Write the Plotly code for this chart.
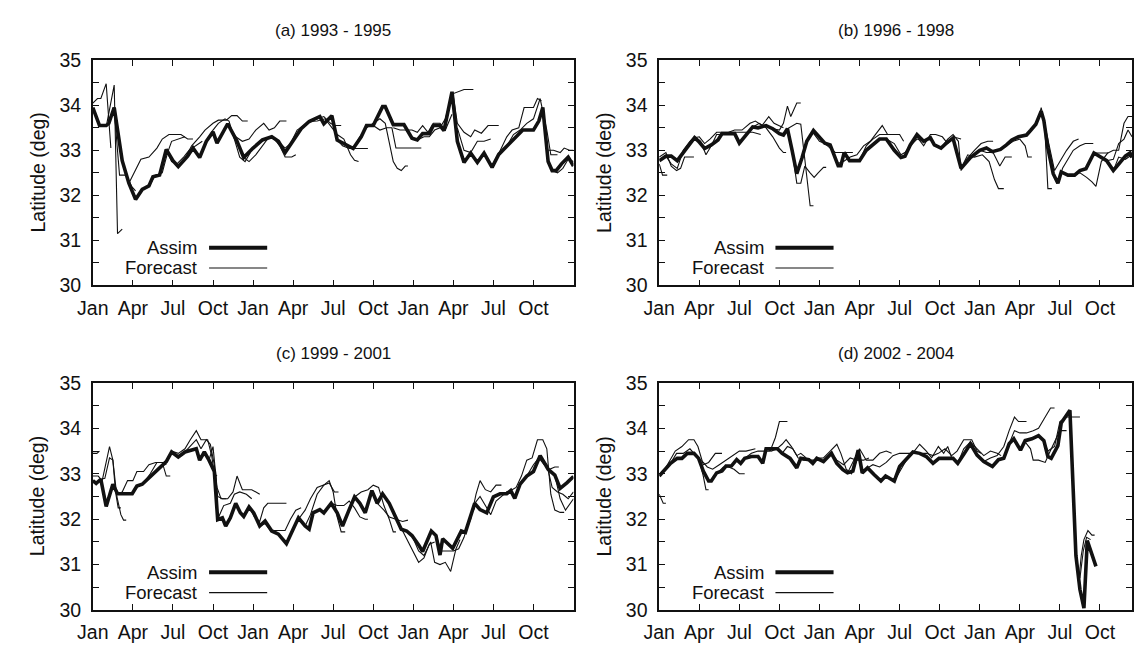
import plotly.graph_objects as go

# ---------------- data ----------------
TICK_MONTHS = [0, 3, 6, 9, 12, 15, 18, 21, 24, 27, 30, 33]
TICK_LABELS = ["Jan", "Apr", "Jul", "Oct"] * 3
Y_TICKS = [30, 31, 32, 33, 34, 35]
Y_MINOR = [30.5, 31.5, 32.5, 33.5, 34.5]
TITLES = ["(a) 1993 - 1995", "(b) 1996 - 1998", "(c) 1999 - 2001", "(d) 2002 - 2004"]

# panel (a) 1993-1995 : months since Jan 1993, latitude
A_ASSIM_M = [0.0, 0.5, 1.0, 1.2, 1.6, 2.2, 2.7, 3.2, 3.7, 4.2, 4.5, 5.0, 5.5, 6.0, 6.4, 6.8, 7.1, 7.5, 8.0, 8.5,
             9.0, 9.3, 10.1, 10.8, 11.3, 12.0, 12.7, 13.4, 13.9, 14.4, 15.0, 15.6, 16.2, 17.0, 17.3, 17.9, 18.3,
             18.8, 19.5, 20.1, 20.5, 21.0, 21.7, 21.9, 22.5, 23.3, 23.9, 24.3, 24.7, 25.2, 25.5, 26.0, 26.3,
             26.9, 27.3, 27.8, 28.3, 28.8, 29.3, 29.9, 30.4, 31.0, 31.6, 32.2, 33.0, 33.4, 33.7, 34.1, 34.4,
             34.7, 35.1, 35.6, 36.0]
A_ASSIM_V = [33.95, 33.55, 33.55, 33.6, 33.95, 32.77, 32.27, 31.91, 32.13, 32.21, 32.41, 32.45, 33.02, 32.77,
             32.64, 32.77, 32.87, 33.05, 32.84, 33.2, 33.41, 33.16, 33.59, 33.2, 32.84, 33.05, 33.23, 33.3,
             33.2, 32.95, 33.2, 33.48, 33.64, 33.75, 33.59, 33.77, 33.23, 33.16, 33.04, 33.3, 33.55, 33.55,
             33.97, 33.97, 33.57, 33.57, 33.27, 33.23, 33.37, 33.37, 33.55, 33.55, 33.44, 34.3, 33.2, 32.73,
             32.94, 32.73, 32.94, 32.62, 32.91, 33.09, 33.27, 33.45, 33.45, 33.65, 33.95, 32.75, 32.55, 32.55,
             32.7, 32.85, 32.65]
A_FORECASTS = [
    [(0, 34.05), (0.35, 34.15), (0.6, 34.15), (1.0, 34.48), (1.35, 33.05)],
    [(1.05, 33.6), (1.6, 34.45), (1.85, 31.15), (2.2, 31.25)],
    [(1.6, 33.9), (2.0, 32.45), (2.5, 32.45), (2.9, 32.2), (3.2, 32.1)],
    [(2.7, 32.27), (3.2, 32.55), (3.6, 32.8), (4.2, 32.85), (4.8, 33.05), (5.2, 33.25), (5.7, 33.35),
     (6.6, 33.35), (7.1, 33.25), (7.5, 33.25)],
    [(4.2, 32.21), (4.7, 32.45), (5.2, 32.5), (5.6, 32.95), (5.9, 33.2), (6.4, 33.25), (6.9, 33.3)],
    [(5.5, 33.02), (5.9, 32.75), (6.3, 32.7), (6.8, 32.85), (7.2, 33.0), (7.7, 33.1), (8.2, 33.2)],
    [(6.8, 32.77), (7.4, 33.1), (8.0, 33.3), (8.4, 33.45), (9.0, 33.6), (9.4, 33.67), (10.0, 33.67),
     (10.4, 33.77), (10.8, 33.77), (11.2, 33.65), (11.6, 33.65)],
    [(8.5, 33.2), (9.0, 33.45), (9.4, 33.6), (9.9, 33.7), (10.2, 33.65), (10.6, 33.25), (11.0, 32.85),
     (11.4, 32.75), (11.8, 32.95)],
    [(10.1, 33.59), (10.7, 33.3), (11.2, 33.2), (11.7, 33.25), (12.2, 33.45), (12.8, 33.6), (13.2, 33.45),
     (13.6, 33.5), (14.0, 33.65), (14.5, 33.65)],
    [(11.3, 32.84), (11.7, 32.75), (12.2, 32.9), (12.7, 33.1), (13.2, 33.3), (13.6, 33.25), (14.0, 33.1),
     (14.4, 32.85), (14.9, 32.85), (15.2, 32.9)],
    [(13.9, 33.2), (14.4, 33.05), (14.8, 33.15), (15.3, 33.45), (15.8, 33.55), (16.3, 33.65), (16.8, 33.7),
     (17.3, 33.75), (17.8, 33.6), (18.1, 33.55), (18.6, 33.55)],
    [(16.2, 33.64), (16.8, 33.65), (17.4, 33.7), (17.9, 33.5), (18.3, 33.35), (18.8, 33.25), (19.3, 32.9),
     (19.6, 32.78), (19.9, 32.75)],
    [(18.3, 33.23), (18.7, 33.1), (19.2, 33.04), (20.6, 33.04)],
    [(19.5, 33.04), (20.0, 33.3), (20.5, 33.5), (21.0, 33.6), (21.5, 33.7), (21.9, 33.6), (22.3, 33.0),
     (22.5, 32.75), (22.8, 32.6), (23.1, 32.55), (23.4, 32.65), (23.6, 32.65)],
    [(21.0, 33.55), (21.5, 33.45), (22.0, 33.5), (22.4, 33.5), (22.7, 33.05), (23.2, 33.05), (24.6, 33.05)],
    [(22.5, 33.5), (23.0, 33.45), (23.9, 33.45), (24.3, 33.4), (24.7, 33.55), (25.1, 33.4), (25.5, 33.6),
     (26.0, 33.6), (26.4, 33.45), (26.9, 33.8)],
    [(24.3, 33.23), (24.8, 33.3), (25.2, 33.3), (25.6, 33.45), (26.0, 33.5), (26.4, 33.7), (26.9, 34.25),
     (27.3, 34.3), (27.8, 34.35), (28.5, 34.35)],
    [(27.0, 34.2), (27.3, 33.6), (27.8, 33.4), (28.3, 33.3), (28.6, 33.45), (29.1, 33.38), (29.6, 33.55),
     (30.4, 33.55)],
    [(27.3, 33.5), (27.8, 33.0), (28.3, 32.95), (28.8, 33.2), (29.3, 33.2), (29.8, 33.25)],
    [(29.9, 32.62), (30.5, 33.0), (31.0, 33.3), (31.4, 33.45), (31.9, 33.5), (32.3, 33.95), (33.0, 33.95),
     (33.3, 34.15), (33.6, 34.1)],
    [(31.0, 33.09), (31.5, 33.35), (32.0, 33.45), (32.5, 33.6), (33.0, 33.7), (33.5, 34.15), (34.0, 33.45),
     (34.3, 32.9), (34.8, 32.9)],
    [(34.1, 33.0), (34.5, 33.0), (35.0, 32.95), (35.3, 33.05), (35.7, 33.0), (36.0, 33.0)],
    [(34.4, 32.55), (34.8, 32.5), (35.2, 32.6), (35.6, 32.8), (36.0, 32.75)],
]

# panel (b) 1996-1998
B_ASSIM_M = [0.0, 0.5, 0.9, 1.35, 1.8, 2.65, 2.95, 3.4, 3.9, 4.4, 4.7, 5.65, 6.0, 7.0, 7.4, 8.0, 8.5, 9.0, 9.3,
             9.6, 9.95, 10.3, 10.7, 11.05, 11.55, 12.0, 12.4, 12.8, 13.4, 13.6, 13.85, 14.25, 15.0, 15.5, 16.0,
             16.5, 17.0, 17.6, 18.1, 18.4, 18.8, 19.3, 19.8, 20.3, 20.6, 21.1, 21.5, 22.0, 22.6, 23.3, 24.0,
             24.5, 24.95, 25.55, 26.0, 26.4, 26.9, 27.5, 27.8, 28.2, 28.6, 28.8, 29.1, 29.5, 29.85, 30.1, 30.6,
             31.1, 31.5, 31.95, 32.55, 33.05, 33.5, 34.0, 34.4, 34.9, 35.25, 35.4]
B_ASSIM_V = [32.77, 32.87, 32.87, 32.77, 32.95, 33.28, 33.2, 33.04, 33.12, 33.23, 33.37, 33.37, 33.16, 33.52,
             33.5, 33.55, 33.48, 33.37, 33.34, 33.48, 33.0, 32.48, 32.84, 33.2, 33.44, 33.3, 33.16, 33.12,
             32.66, 32.66, 32.95, 32.77, 32.77, 33.0, 33.12, 33.25, 33.25, 33.0, 32.84, 32.87, 33.12, 33.35,
             33.2, 33.28, 33.12, 33.05, 33.16, 33.27, 32.6, 32.84, 33.0, 33.05, 32.97, 33.02, 33.12, 33.23,
             33.3, 33.34, 33.44, 33.58, 33.87, 33.66, 33.05, 32.48, 32.27, 32.52, 32.45, 32.45, 32.55, 32.59,
             32.94, 32.84, 32.77, 32.55, 32.7, 32.87, 32.94, 32.84]
B_FORECASTS = [
    [(0, 32.7), (0.25, 32.45), (0.6, 32.45)],
    [(0, 32.85), (0.5, 32.95), (0.9, 32.65), (1.3, 32.55), (1.6, 32.6), (1.9, 32.85), (2.6, 32.85)],
    [(0.5, 32.87), (0.9, 32.7), (1.35, 32.6), (1.8, 33.0), (2.3, 33.2), (2.65, 33.3), (3.1, 33.2),
     (3.5, 32.9), (3.9, 33.1), (4.3, 33.35), (4.7, 33.35)],
    [(2.65, 33.28), (3.0, 33.3), (3.4, 33.15), (3.8, 33.25), (4.3, 33.4), (5.0, 33.4), (6.0, 33.4),
     (7.0, 33.4), (7.6, 33.35)],
    [(4.7, 33.37), (5.2, 33.4), (5.65, 33.45), (6.2, 33.45), (6.8, 33.6), (7.2, 33.65), (7.7, 33.55),
     (8.2, 33.75), (8.6, 33.6), (9.0, 33.55), (9.3, 33.5)],
    [(7.0, 33.52), (7.5, 33.6), (8.0, 33.5), (8.5, 33.3), (9.0, 33.05), (9.3, 32.95), (9.5, 32.95)],
    [(8.5, 33.48), (9.0, 33.45), (9.3, 33.6), (9.6, 33.98), (9.85, 33.75), (10.3, 34.05), (10.6, 34.05)],
    [(9.6, 33.48), (10.0, 33.55), (10.3, 33.6), (10.6, 33.58), (11.3, 31.77), (11.55, 31.77)],
    [(9.95, 33.0), (10.3, 32.27), (10.6, 32.27), (10.9, 32.65), (11.3, 32.5), (11.6, 32.4), (11.9, 32.5),
     (12.3, 32.62), (12.5, 32.62)],
    [(11.05, 33.2), (11.5, 33.4), (12.0, 33.2), (12.4, 33.15), (12.8, 33.05), (13.2, 32.95), (13.9, 32.95),
     (14.5, 32.95)],
    [(12.8, 33.12), (13.3, 32.7), (13.8, 32.75), (14.3, 32.85), (14.8, 32.9), (15.3, 33.1), (15.8, 33.2),
     (16.3, 33.4), (16.7, 33.55), (17.1, 33.35), (17.6, 33.35)],
    [(15.0, 32.77), (15.5, 33.1), (16.0, 33.25), (16.5, 33.35), (17.0, 33.35), (17.5, 33.35), (18.0, 33.35),
     (18.3, 33.2)],
    [(17.0, 33.25), (17.6, 33.15), (18.1, 32.9), (18.4, 32.95), (18.8, 33.1), (19.3, 33.25), (19.8, 33.2)],
    [(18.8, 33.12), (19.3, 33.3), (19.8, 33.1), (20.3, 33.35), (20.7, 33.35), (21.2, 33.3), (21.6, 33.15),
     (22.0, 33.3), (22.6, 33.25)],
    [(21.1, 33.05), (21.6, 33.25), (22.0, 33.35), (22.4, 33.2), (22.6, 32.55), (23.0, 32.8), (23.6, 33.0),
     (24.1, 33.15), (24.6, 33.2), (25.0, 33.2)],
    [(22.6, 32.6), (23.1, 32.9), (23.6, 32.85), (24.2, 32.9), (24.7, 32.75), (25.1, 32.35), (25.4, 32.15),
     (25.8, 32.15)],
    [(24.0, 33.0), (24.5, 32.95), (25.0, 32.95), (25.5, 32.65), (25.9, 32.85), (26.4, 32.85)],
    [(25.5, 33.0), (26.0, 33.1), (26.5, 33.2), (27.0, 33.25), (27.4, 33.1), (27.6, 32.85), (27.9, 32.85)],
    [(26.4, 33.23), (27.0, 33.3), (27.5, 33.35), (28.0, 33.5), (28.4, 33.7), (28.6, 33.95), (28.85, 33.6),
     (29.1, 32.15), (29.4, 32.15)],
    [(28.8, 33.66), (29.3, 33.0), (29.6, 32.55), (30.0, 32.75), (30.5, 33.0), (31.0, 33.2), (31.4, 33.25)],
    [(29.85, 32.27), (30.2, 32.6), (30.6, 32.8), (31.0, 33.0), (31.5, 33.1), (31.9, 33.15), (32.5, 33.15)],
    [(31.1, 32.45), (31.5, 32.5), (32.0, 32.4), (32.4, 32.3), (32.7, 32.2), (33.1, 32.75), (33.6, 32.95)],
    [(32.55, 32.94), (33.0, 32.94), (33.6, 32.94), (34.0, 33.0), (34.4, 33.0), (34.8, 33.6), (35.1, 33.75),
     (35.4, 33.75)],
    [(33.5, 32.77), (34.0, 32.8), (34.4, 33.15), (34.8, 33.25), (35.1, 33.45), (35.4, 33.3)],
    [(34.0, 32.55), (34.4, 32.85), (34.9, 32.8), (35.4, 32.9)],
]

# panel (c) 1999-2001
C_ASSIM_M = [0.0, 0.25, 0.6, 1.0, 1.5, 1.85, 2.95, 3.3, 3.7, 4.2, 4.7, 5.15, 5.5, 5.9, 6.4, 6.9, 7.4, 7.75,
             8.0, 8.35, 8.7, 9.1, 9.35, 9.7, 9.95, 10.3, 10.7, 11.05, 11.3, 11.7, 12.05, 12.5, 12.9, 13.4,
             13.9, 14.5, 15.0, 15.4, 15.9, 16.2, 16.5, 17.0, 17.3, 17.85, 18.3, 18.7, 19.2, 19.6, 20.0, 20.4,
             20.9, 21.3, 21.7, 22.2, 22.7, 23.1, 23.5, 23.9, 24.4, 24.7, 25.35, 25.7, 26.0, 26.2, 26.95, 27.6,
             27.9, 28.2, 28.6, 29.0, 29.5, 30.0, 30.5, 31.0, 31.3, 31.6, 32.0, 32.5, 33.0, 33.5, 34.1, 34.6,
             35.0, 35.5, 36.0]
C_ASSIM_V = [32.85, 32.79, 32.88, 32.28, 32.77, 32.56, 32.56, 32.73, 32.77, 32.91, 33.05, 33.16, 33.27, 33.48,
             33.37, 33.48, 33.52, 33.55, 33.3, 33.48, 33.3, 33.05, 31.99, 32.03, 31.85, 32.03, 32.35, 32.14,
             32.06, 32.27, 32.14, 31.85, 31.96, 31.74, 31.67, 31.46, 31.78, 32.03, 31.85, 31.78, 32.14, 32.21,
             32.14, 32.35, 32.14, 31.85, 32.21, 32.49, 32.35, 32.14, 32.63, 32.35, 32.56, 32.35, 32.03, 31.78,
             31.74, 31.64, 31.43, 31.29, 31.74, 31.64, 31.21, 31.57, 31.36, 31.74, 31.71, 31.96, 32.35, 32.21,
             32.14, 32.49, 32.56, 32.56, 32.63, 32.46, 32.77, 32.95, 33.05, 33.4, 33.1, 32.97, 32.68, 32.8,
             32.94]
C_FORECASTS = [
    [(0, 33.45), (0.3, 33.45), (0.5, 33.5)],
    [(0, 32.95), (0.4, 32.95), (0.7, 32.85), (1.0, 33.3), (1.25, 33.6), (1.5, 33.3), (1.8, 32.5), (2.1, 32.1),
     (2.3, 31.98), (2.5, 31.98)],
    [(0.6, 32.88), (0.9, 32.9), (1.25, 33.35), (1.5, 33.3), (1.7, 32.6), (1.9, 32.25), (2.1, 32.25)],
    [(1.85, 32.56), (2.2, 32.6), (2.6, 32.85), (3.0, 32.85), (3.3, 33.05), (3.8, 33.05), (4.2, 33.2),
     (4.7, 33.25), (5.3, 33.25), (5.5, 33.2)],
    [(2.95, 32.56), (3.3, 32.7), (3.8, 32.8), (4.3, 33.0), (4.8, 33.25), (5.2, 33.25), (5.5, 32.95),
     (5.8, 32.95)],
    [(5.5, 33.27), (5.9, 33.5), (6.4, 33.45), (6.9, 33.55), (7.3, 33.75), (7.75, 33.95), (8.1, 33.75),
     (8.6, 33.75), (8.9, 33.4), (9.1, 33.0), (9.3, 32.95)],
    [(6.9, 33.48), (7.3, 33.6), (7.75, 33.75), (8.1, 33.55), (8.5, 33.75), (8.8, 33.65), (9.1, 33.2),
     (9.35, 32.5), (9.7, 32.45), (10.0, 32.45)],
    [(8.7, 33.3), (9.0, 33.6), (9.3, 32.7), (9.6, 32.45), (10.1, 32.45), (10.5, 32.6), (10.8, 32.95),
     (11.2, 32.65), (11.9, 32.65), (12.5, 32.55)],
    [(9.35, 32.0), (9.8, 32.3), (10.3, 32.35), (10.6, 32.55), (11.0, 32.6), (11.5, 32.55), (11.9, 32.45)],
    [(11.7, 32.27), (12.1, 32.05), (12.5, 31.95), (12.8, 32.25), (13.1, 32.35), (13.5, 32.35), (14.1, 32.35),
     (14.5, 32.35)],
    [(12.5, 31.85), (12.9, 31.9), (13.3, 31.75), (13.8, 31.75), (14.4, 31.75), (14.8, 32.0), (15.2, 32.2),
     (15.6, 32.25)],
    [(14.5, 31.46), (14.9, 31.7), (15.4, 32.0), (15.9, 32.2), (16.3, 32.45), (16.8, 32.7), (17.2, 32.75),
     (17.7, 32.8), (18.1, 32.6), (18.4, 32.6)],
    [(15.9, 31.85), (16.3, 32.1), (16.8, 32.55), (17.3, 32.75), (17.7, 32.85), (18.0, 32.6), (18.3, 32.05),
     (18.6, 31.72), (18.9, 31.72)],
    [(17.85, 32.35), (18.3, 32.3), (18.8, 32.3), (19.2, 32.4), (19.6, 32.25), (20.0, 32.05), (20.4, 32.0),
     (20.6, 32.0)],
    [(19.6, 32.49), (20.1, 32.6), (20.6, 32.65), (21.0, 32.75), (21.4, 32.7), (21.8, 32.3), (22.2, 32.0),
     (22.5, 31.72), (22.7, 31.72)],
    [(20.9, 32.63), (21.3, 32.35), (21.8, 32.2), (22.2, 32.05), (22.7, 32.0), (23.2, 31.95), (23.6, 31.98)],
    [(22.7, 32.03), (23.1, 31.8), (23.5, 31.55), (24.0, 31.27), (24.4, 31.05), (24.8, 31.15), (25.2, 31.45),
     (25.6, 31.5)],
    [(23.9, 31.64), (24.4, 31.3), (24.8, 31.2), (25.3, 31.5), (25.6, 31.05), (26.0, 31.0), (26.4, 31.05),
     (26.8, 30.85), (27.2, 31.35), (27.5, 31.55)],
    [(25.7, 31.64), (26.1, 31.3), (26.6, 31.3), (27.0, 31.3), (27.4, 31.35), (27.8, 31.6), (28.3, 32.1),
     (28.6, 32.25)],
    [(27.9, 31.71), (28.3, 32.0), (28.7, 32.55), (29.0, 32.85), (29.4, 32.65), (29.8, 32.6), (30.2, 32.75),
     (30.6, 32.75)],
    [(28.6, 32.35), (29.0, 32.5), (29.4, 32.3), (29.8, 32.1), (30.2, 32.4), (30.6, 32.5), (31.0, 32.6),
     (31.5, 32.55)],
    [(31.3, 32.63), (31.7, 32.7), (32.1, 32.95), (32.5, 33.3), (32.9, 33.35), (33.3, 33.75), (33.7, 33.75),
     (34.0, 33.55), (34.3, 32.55), (34.6, 32.2), (35.0, 32.15), (35.3, 32.15)],
    [(32.5, 32.95), (33.0, 33.2), (33.4, 33.35), (33.8, 33.2), (34.2, 33.1), (34.6, 33.15), (34.9, 33.15)],
    [(33.5, 33.4), (34.0, 33.2), (34.4, 32.7), (34.8, 32.6), (35.2, 32.55), (35.6, 32.45), (36.0, 32.6)],
    [(34.6, 32.97), (35.0, 32.45), (35.4, 32.2), (35.8, 32.35), (36.0, 32.45)],
]

# panel (d) 2002-2004
D_ASSIM_M = [0.0, 0.35, 0.85, 1.35, 1.7, 2.1, 2.6, 2.95, 3.3, 3.7, 3.9, 4.3, 4.7, 5.0, 5.4, 5.8, 6.1, 6.4, 6.9,
             7.4, 7.75, 8.0, 8.85, 9.2, 9.8, 10.3, 10.6, 11.2, 11.5, 11.8, 12.3, 12.9, 13.3, 13.75, 14.1, 14.5,
             14.9, 15.2, 15.6, 16.1, 16.6, 16.95, 17.45, 17.6, 18.0, 18.5, 19.0, 19.5, 20.0, 20.5, 20.95, 22.0,
             22.35, 22.85, 23.3, 23.8, 24.3, 24.95, 25.4, 25.8, 26.2, 26.55, 27.05, 27.4, 27.9, 28.4, 28.8,
             29.1, 29.35, 29.85, 30.1, 30.75, 31.2, 31.5, 31.8, 32.05, 32.3, 32.7]
D_ASSIM_V = [32.95, 33.06, 33.23, 33.34, 33.34, 33.45, 33.45, 33.34, 33.06, 32.84, 32.84, 33.02, 33.06, 33.17,
             33.17, 33.31, 33.23, 33.34, 33.38, 33.38, 33.23, 33.55, 33.55, 33.45, 33.34, 33.13, 33.34, 33.31,
             33.23, 33.34, 33.27, 33.45, 33.23, 33.09, 33.02, 33.06, 33.52, 33.02, 33.13, 32.98, 32.84, 32.95,
             32.88, 32.84, 33.16, 33.31, 33.48, 33.45, 33.38, 33.23, 33.34, 33.34, 33.23, 33.45, 33.66, 33.41,
             33.27, 33.16, 33.31, 33.34, 33.66, 33.77, 33.52, 33.73, 33.77, 33.84, 33.73, 33.38, 33.34, 33.62,
             34.12, 34.4, 31.2, 30.45, 30.04, 31.53, 31.3, 30.96]
D_FORECASTS = [
    [(0, 32.55), (0.3, 32.35), (0.5, 32.35)],
    [(0.35, 33.06), (0.8, 33.3), (1.2, 33.5), (1.7, 33.6), (2.2, 33.75), (2.6, 33.75), (2.9, 33.6),
     (3.3, 33.2), (3.7, 33.25), (4.2, 33.45), (4.7, 33.45)],
    [(0.85, 33.23), (1.3, 33.45), (1.8, 33.45), (2.3, 33.55), (2.6, 33.45), (3.0, 33.3), (3.3, 32.95),
     (3.5, 32.65), (3.7, 32.65)],
    [(2.95, 33.34), (3.3, 33.25), (3.6, 33.15), (4.0, 33.1), (4.5, 33.2), (5.0, 33.3), (5.5, 33.4),
     (6.0, 33.5), (6.5, 33.5), (7.2, 33.55)],
    [(3.9, 32.84), (4.3, 33.0), (4.8, 33.15), (5.2, 33.15), (5.6, 33.1), (6.0, 33.0), (6.4, 33.0)],
    [(6.4, 33.34), (6.9, 33.45), (7.4, 33.5), (7.8, 33.5), (8.3, 33.5), (8.7, 33.8), (9.0, 34.15),
     (9.6, 34.15)],
    [(8.0, 33.55), (8.4, 33.5), (8.8, 33.55), (9.2, 33.65), (9.5, 33.75), (9.9, 33.6), (10.3, 33.4),
     (10.6, 33.45), (11.0, 33.35)],
    [(9.2, 33.45), (9.6, 33.6), (10.0, 33.55), (10.4, 33.35), (10.8, 33.3), (11.3, 33.3), (11.8, 33.3),
     (12.2, 33.3)],
    [(11.8, 33.34), (12.3, 33.35), (12.8, 33.5), (13.3, 33.65), (13.6, 33.45), (14.0, 33.1), (14.4, 33.0),
     (14.8, 33.3), (15.0, 33.45)],
    [(12.9, 33.45), (13.3, 33.3), (13.8, 33.2), (14.3, 33.35), (14.8, 33.3), (15.3, 33.3), (15.7, 33.35)],
    [(14.1, 33.02), (14.6, 33.3), (15.0, 33.55), (15.5, 33.3), (16.0, 33.3), (16.5, 33.45), (17.0, 33.5),
     (17.4, 33.45)],
    [(15.6, 33.13), (16.0, 33.2), (16.5, 33.15), (17.0, 33.25), (17.5, 33.4), (18.0, 33.45), (18.5, 33.45),
     (19.0, 33.45)],
    [(17.6, 32.84), (18.1, 33.1), (18.6, 33.35), (19.1, 33.5), (19.5, 33.65), (20.0, 33.5), (20.4, 33.35),
     (20.9, 33.6), (21.3, 33.45), (21.6, 33.6), (21.9, 33.35)],
    [(19.5, 33.45), (20.0, 33.45), (20.5, 33.4), (20.9, 33.45), (21.4, 33.55), (21.9, 33.4), (22.3, 33.5),
     (22.8, 33.75), (23.4, 33.75), (23.8, 33.5), (24.1, 33.45)],
    [(22.35, 33.23), (22.8, 33.55), (23.3, 33.7), (23.8, 33.55), (24.3, 33.4), (24.8, 33.5), (25.3, 33.45),
     (25.6, 33.4)],
    [(24.3, 33.27), (24.8, 33.35), (25.3, 33.4), (25.8, 33.6), (26.2, 33.95), (26.6, 34.25), (26.9, 34.15),
     (27.5, 34.15)],
    [(26.2, 33.66), (26.6, 33.95), (27.0, 33.9), (27.5, 33.9), (28.0, 33.95), (28.4, 34.0), (28.8, 34.2),
     (29.3, 34.45), (29.6, 34.45)],
    [(27.05, 33.52), (27.4, 33.7), (27.8, 33.55), (28.0, 33.3), (28.4, 33.3), (28.9, 33.25), (29.2, 33.45),
     (29.6, 33.7), (30.0, 33.95), (30.5, 33.95)],
    [(28.8, 33.73), (29.1, 33.5), (29.6, 33.6), (30.0, 34.15), (30.5, 34.25), (30.9, 34.25), (31.5, 34.25)],
    [(30.75, 34.35), (31.1, 31.7), (31.4, 30.6), (31.6, 31.2), (31.8, 31.55), (32.1, 31.75), (32.4, 31.65),
     (32.6, 31.65)],
    [(31.2, 31.2), (31.5, 30.7), (31.75, 31.3), (32.0, 31.6), (32.3, 31.55)],
]

PANELS = [
    (A_ASSIM_M, A_ASSIM_V, A_FORECASTS, 36.0),
    (B_ASSIM_M, B_ASSIM_V, B_FORECASTS, 35.4),
    (C_ASSIM_M, C_ASSIM_V, C_FORECASTS, 36.0),
    (D_ASSIM_M, D_ASSIM_V, D_FORECASTS, 35.4),
]

# ---------------- layout helpers (pixel geometry) ----------------
W, H = 1134, 650
FONT = "Liberation Sans, Arial, Helvetica, sans-serif"
INK = "#111111"
TICK_FS = 19.5
LEGEND_FS = 18.5
TITLE_FS = 17


def px(x):
    return x / W


def py(y):
    return 1 - y / H


# (left, right, top, bottom) in pixels for each panel
BOXES = [(78, 566, 51, 284), (653, 1133, 51, 284), (78, 566, 385, 620), (653, 1133, 385, 620)]

fig = go.Figure()
layout = dict(
    width=W, height=H, margin=dict(l=0, r=0, t=0, b=0),
    paper_bgcolor="white", plot_bgcolor="white", showlegend=False,
    font=dict(family=FONT, size=TICK_FS, color=INK),
)

annotations = []
shapes = []

for i, ((am, av, fcs, xmax), (l, r, t, b)) in enumerate(zip(PANELS, BOXES)):
    k = "" if i == 0 else str(i + 1)
    xa, ya = "x" + k, "y" + k
    # forecasts (thin)
    fx, fy = [], []
    for seg in fcs:
        fx += [p[0] for p in seg] + [None]
        fy += [p[1] for p in seg] + [None]
    fig.add_trace(go.Scatter(x=fx, y=fy, mode="lines", xaxis=xa, yaxis=ya,
                             line=dict(color=INK, width=1.1), hoverinfo="skip"))
    # assimilation (thick)
    fig.add_trace(go.Scatter(x=am, y=av, mode="lines", xaxis=xa, yaxis=ya,
                             line=dict(color=INK, width=3.6), hoverinfo="skip"))

    layout["xaxis" + k] = dict(
        domain=[px(l), px(r)], range=[0, xmax], anchor=ya,
        tickmode="array", tickvals=TICK_MONTHS, ticktext=TICK_LABELS,
        ticks="inside", ticklen=6, tickwidth=1, tickcolor=INK,
        showline=True, linecolor=INK, linewidth=1.6, mirror="allticks",
        showgrid=False, zeroline=False, ticklabelstandoff=4,
        tickfont=dict(size=TICK_FS, family=FONT, color=INK),
    )
    layout["yaxis" + k] = dict(
        domain=[py(b), py(t)], range=[30, 35], anchor=xa,
        tickmode="array", tickvals=Y_TICKS,
        ticks="inside", ticklen=6, tickwidth=1, tickcolor=INK,
        minor=dict(tickmode="array", tickvals=Y_MINOR, ticks="inside", ticklen=6, tickcolor=INK),
        showline=True, linecolor=INK, linewidth=1.6, mirror="allticks",
        showgrid=False, zeroline=False, ticklabelstandoff=6,
        tickfont=dict(size=TICK_FS, family=FONT, color=INK),
    )

    # panel title
    annotations.append(dict(text=TITLES[i], x=px((l + r) / 2), y=py(t - 31), xref="paper", yref="paper",
                            showarrow=False, font=dict(size=TITLE_FS, family=FONT, color=INK),
                            xanchor="center", yanchor="middle"))
    # y-axis title
    annotations.append(dict(text="Latitude (deg)", x=px(l - 56), y=py((t + b) / 2), xref="paper", yref="paper",
                            showarrow=False, textangle=-90, font=dict(size=TICK_FS, family=FONT, color=INK),
                            xanchor="center", yanchor="middle"))
    # legend (gnuplot style: label then line sample)
    for j, (lab, lw) in enumerate([("Assim", 4.0), ("Forecast", 1.1)]):
        yy = b - 39 + 21 * j
        annotations.append(dict(text=lab, x=px(l + 107), y=py(yy), xref="paper", yref="paper",
                                showarrow=False, font=dict(size=LEGEND_FS, family=FONT, color=INK),
                                xanchor="right", yanchor="middle", borderpad=0))
        shapes.append(dict(type="line", xref="paper", yref="paper",
                           x0=px(l + 118), x1=px(l + 177), y0=py(yy), y1=py(yy),
                           line=dict(color=INK, width=lw)))

layout["annotations"] = annotations
layout["shapes"] = shapes
fig.update_layout(**layout)
fig.write_html("out.html")
